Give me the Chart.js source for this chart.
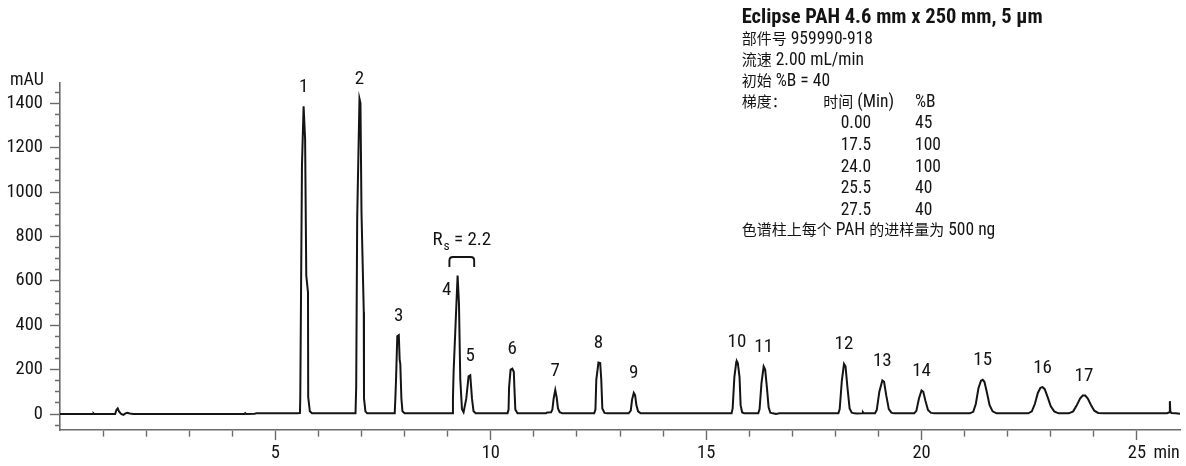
<!DOCTYPE html>
<html>
<head>
<meta charset="utf-8">
<script src="https://cdn.jsdelivr.net/npm/chart.js@4.4.1/dist/chart.umd.min.js"></script>
<style>
  html, body { margin: 0; padding: 0; background: #fff; }
  canvas { display: block; }
</style>
</head>
<body>
<canvas id="chrom" width="1186" height="466"></canvas>
<script>
// ---- Chromatogram data: [time (min), absorbance (mAU)] ----
const trace = [
  // early baseline with injection disturbance
  [0, 0], [0.77, 0], [0.78, 2], [0.79, 0], [1.28, 0], [1.31, 18], [1.34, 25], [1.37, 12],
  [1.42, 0], [1.47, -4], [1.52, 3], [1.56, 5], [1.62, 2], [1.70, 0], [1.95, 0], [1.96, 2],
  [1.97, 0], [4.28, 0], [4.30, 4], [4.32, 0], [4.52, 1], [4.56, 3], [5.50, 3],
  // peak 1
  [5.57, 4], [5.578, 76], [5.617, 1119], [5.655, 1386], [5.69, 1239], [5.717, 624],
  [5.757, 548], [5.762, 76], [5.80, 12], [5.85, 3], [6.86, 3],
  // peak 2
  [6.876, 121], [6.899, 879], [6.952, 1420], [6.975, 1400], [6.999, 908], [7.052, 458],
  [7.057, 70], [7.09, 12], [7.13, 3],
  // peak 3
  [7.77, 3], [7.785, 70], [7.80, 150], [7.83, 350], [7.865, 355], [7.885, 245], [7.90, 225],
  [7.925, 70], [7.95, 12], [8.00, 3],
  // peaks 4 and 5
  [9.10, 3], [9.122, 69], [9.137, 188], [9.23, 624], [9.262, 496], [9.292, 158], [9.331, 23],
  [9.369, 8], [9.431, 69], [9.485, 170], [9.524, 175], [9.564, 69], [9.60, 12], [9.65, 3],
  // peak 6
  [10.39, 3], [10.413, 20], [10.425, 121], [10.46, 200], [10.50, 204], [10.535, 190],
  [10.548, 121], [10.57, 20], [10.62, 3],
  // peak 7
  [11.28, 3], [11.31, 7], [11.40, 8], [11.43, 20], [11.46, 70], [11.497, 108], [11.53, 75],
  [11.56, 25], [11.60, 8], [11.66, 3],
  // peak 8
  [12.40, 3], [12.43, 20], [12.45, 155], [12.50, 232], [12.54, 230], [12.565, 155],
  [12.59, 25], [12.64, 5], [12.70, 3],
  // peak 9
  [13.20, 3], [13.25, 15], [13.28, 65], [13.32, 95], [13.35, 85], [13.38, 40], [13.42, 12], [13.48, 3],
  // peak 10
  [15.59, 3], [15.615, 25], [15.655, 166], [15.70, 235], [15.715, 237], [15.735, 230], [15.775, 166],
  [15.80, 40], [15.835, 8], [15.88, 3],
  // peak 11
  [16.21, 3], [16.24, 22], [16.285, 140], [16.335, 214], [16.37, 200], [16.41, 120],
  [16.45, 30], [16.49, 6], [16.55, 3], [16.62, 0], [16.70, 3],
  // peak 12
  [18.07, 3], [18.10, 22], [18.15, 150], [18.20, 226], [18.235, 215], [18.28, 120],
  [18.33, 25], [18.38, 6], [18.44, 3], [18.50, 2], [18.62, 3], [18.64, 8], [18.66, 3],
  // peak 13
  [18.92, 3], [18.96, 18], [19.02, 100], [19.09, 151], [19.13, 145], [19.18, 85],
  [19.24, 22], [19.30, 6], [19.36, 3],
  // peak 14
  [19.83, 3], [19.88, 14], [19.94, 70], [20.00, 106], [20.04, 100], [20.09, 60],
  [20.15, 18], [20.22, 5], [20.30, 3],
  // peak 15
  [21.12, 3], [21.20, 10], [21.26, 45], [21.32, 115], [21.38, 150], [21.42, 154],
  [21.46, 145], [21.52, 95], [21.58, 40], [21.65, 12], [21.74, 3],
  // peak 16
  [22.48, 3], [22.56, 12], [22.63, 45], [22.70, 95], [22.76, 118], [22.81, 121],
  [22.86, 112], [22.93, 75], [23.00, 35], [23.08, 12], [23.18, 3],
  // peak 17
  [23.42, 3], [23.52, 12], [23.60, 38], [23.68, 70], [23.74, 83], [23.80, 83],
  [23.86, 70], [23.93, 42], [24.01, 15], [24.10, 5], [24.22, 3],
  // end-of-run spike
  [25.70, 4], [25.755, 8], [25.765, 58], [25.775, 12], [25.80, 4], [25.90, 3], [26.0, 1]
];

// Peak identities, apex times and apex heights
const peakNumbers = ['1', '2', '3', '4', '5', '6', '7', '8', '9', '10', '11', '12', '13', '14', '15', '16', '17'];
const peakTimes   = [5.655, 6.952, 7.865, 9.23, 9.524, 10.50, 11.497, 12.50, 13.32, 15.715, 16.335, 18.20, 19.09, 20.00, 21.42, 22.81, 23.77];
const peakHeights = [1386, 1420, 355, 624, 175, 204, 108, 232, 95, 237, 214, 226, 151, 106, 154, 121, 83];

// Resolution between peaks 4 and 5
const resolutionValue = '2.2';
const resolutionSpan = [9.04, 9.615];

// Method conditions
const titleText = 'Eclipse PAH 4.6 mm x 250 mm, 5 µm';
const infoLines = ['部件号 959990-918', '流速 2.00 mL/min', '初始 %B = 40'];
const gradientLabel = '梯度：';
const gradientHeaders = ['时间 (Min)', '%B'];
const gradientTimes = ['0.00', '17.5', '24.0', '25.5', '27.5'];
const gradientB = ['45', '100', '100', '40', '40'];
const loadNote = '色谱柱上每个 PAH 的进样量为 500 ng';

// Axis ticks
const xMajorEvery = 5;
const yMajorEvery = 200;
const yUnit = 'mAU';
const xUnit = 'min';

// ---- Styling ----
const INK = '#141414';
const AXIS = '#6a6a6a';
const NARROW = "'Liberation Sans Narrow', 'Arial Narrow', 'Roboto Condensed', 'DejaVu Sans Condensed', sans-serif";
const CJK_FONT = "'Noto Sans CJK SC', 'Noto Sans CJK JP', sans-serif";
const CJK_RE = /[\u3000-\u303f\u4e00-\u9fff\uff00-\uffef]/;

// Draw a string mixing Latin and CJK runs, each in its own font
function drawMixed(ctx, text, x, y, latinFont, cjkFont) {
  const runs = [];
  let cur = '', curCjk = null;
  for (const ch of text) {
    const c = CJK_RE.test(ch);
    if (curCjk === null || c === curCjk) { cur += ch; }
    else { runs.push([cur, curCjk]); cur = ch; }
    curCjk = c;
  }
  if (cur) runs.push([cur, curCjk]);
  ctx.textAlign = 'left';
  for (const [s, c] of runs) {
    ctx.font = c ? cjkFont : latinFont;
    ctx.fillText(s, x, y);
    x += ctx.measureText(s).width;
  }
  return x;
}

const annotations = {
  id: 'annotations',
  afterDraw(chart) {
    const { ctx, scales: { x, y } } = chart;
    ctx.save();
    ctx.fillStyle = INK;
    ctx.strokeStyle = INK;
    ctx.textBaseline = 'alphabetic';

    // peak numbers above each apex (peak 4 sits to its left)
    ctx.font = `19px ${NARROW}`;
    ctx.textAlign = 'center';
    peakNumbers.forEach((n, i) => {
      let px = x.getPixelForValue(peakTimes[i]);
      let py = y.getPixelForValue(peakHeights[i]) - 14.5;
      if (n === '4') { px -= 11; py += 34.5; }
      ctx.fillText(n, px, py);
    });

    // resolution bracket and label
    const bx1 = x.getPixelForValue(resolutionSpan[0]);
    const bx2 = x.getPixelForValue(resolutionSpan[1]);
    const by = y.getPixelForValue(peakHeights[3]) - 18.5;
    const r = 3.5;
    ctx.lineWidth = 1.9;
    ctx.beginPath();
    ctx.moveTo(bx1, by + 10);
    ctx.lineTo(bx1, by + r);
    ctx.quadraticCurveTo(bx1, by, bx1 + r, by);
    ctx.lineTo(bx2 - r, by);
    ctx.quadraticCurveTo(bx2, by, bx2, by + r);
    ctx.lineTo(bx2, by + 10);
    ctx.stroke();

    const big = `19px ${NARROW}`, small = `13.5px ${NARROW}`;
    const tail = ' = ' + resolutionValue;
    ctx.font = big; const wR = ctx.measureText('R').width, wT = ctx.measureText(tail).width;
    ctx.font = small; const wS = ctx.measureText('s').width;
    let tx = (bx1 + bx2) / 2 - (wR + wS + 1 + wT) / 2;
    const ty = by - 11.5;
    ctx.textAlign = 'left';
    ctx.font = big; ctx.fillText('R', tx, ty); tx += wR + 1;
    ctx.font = small; ctx.fillText('s', tx, ty + 4.5); tx += wS;
    ctx.font = big; ctx.fillText(tail, tx, ty);

    // axis units
    ctx.font = `18px ${NARROW}`;
    ctx.textAlign = 'left';
    ctx.fillText(yUnit, 10, 85);
    ctx.fillText(xUnit, x.getPixelForValue(25) + 16.5, chart.chartArea.bottom + 28.3);

    // method block
    const x0 = 741.7;
    const latin = `17.5px ${NARROW}`;
    const cjk = `15px ${CJK_FONT}`;
    ctx.font = `bold 20.5px ${NARROW}`;
    ctx.fillText(titleText, x0, 22.7);
    const base = [44.3, 64.8, 85.5];
    infoLines.forEach((t, i) => drawMixed(ctx, t, x0, base[i], latin, cjk));
    const hy = 106.6;
    drawMixed(ctx, gradientLabel, x0, hy, latin, cjk);
    drawMixed(ctx, gradientHeaders[0], 823.3, hy, latin, cjk);
    drawMixed(ctx, gradientHeaders[1], 915, hy, latin, cjk);
    gradientTimes.forEach((t, i) => {
      const yy = 128.3 + i * 21.67;
      drawMixed(ctx, t, 840.7, yy, latin, cjk);
      drawMixed(ctx, gradientB[i], 915, yy, latin, cjk);
    });
    drawMixed(ctx, loadNote, x0, 234.5, latin, cjk);
    ctx.restore();
  }
};

new Chart(document.getElementById('chrom'), {
  type: 'line',
  data: {
    datasets: [{
      data: trace.map(([t, v]) => ({ x: t, y: v })),
      borderColor: INK,
      borderWidth: 2,
      pointRadius: 0,
      tension: 0,
      fill: false
    }]
  },
  options: {
    responsive: false,
    animation: false,
    devicePixelRatio: 1,
    layout: { padding: { top: 83, right: 6, left: 0, bottom: 0 } },
    plugins: { legend: { display: false }, tooltip: { enabled: false } },
    scales: {
      x: {
        type: 'linear',
        min: 0,
        max: 26,
        afterFit(s) { s.height = 36; },
        border: { color: AXIS, width: 1.6 },
        grid: {
          drawOnChartArea: false,
          tickLength: 10,
          tickWidth: 1.4,
          tickColor: c => (c.tick && (c.tick.value === 0 || c.tick.value === 26)) ? 'rgba(0,0,0,0)' : AXIS,
          tickBorderDash: c => (c.tick && c.tick.value % xMajorEvery === 0) ? [] : [6, 100]
        },
        ticks: {
          stepSize: 1,
          includeBounds: false,
          autoSkip: false,
          maxRotation: 0,
          padding: 2,
          color: INK,
          font: { family: NARROW, size: 18.5 },
          callback: v => (v > 0 && v % xMajorEvery === 0) ? String(v) : ''
        }
      },
      y: {
        type: 'linear',
        min: -72,
        max: 1491,
        afterFit(s) { s.width = 60; },
        border: { color: AXIS, width: 1.6 },
        grid: {
          drawOnChartArea: false,
          tickLength: 10,
          tickWidth: 1.4,
          tickColor: AXIS,
          tickBorderDash: c => (c.tick && c.tick.value % yMajorEvery === 0) ? [] : [0, 5, 5, 100]
        },
        ticks: {
          stepSize: 50,
          includeBounds: false,
          autoSkip: false,
          padding: 7,
          color: INK,
          font: { family: NARROW, size: 18.5 },
          callback: v => (v >= 0 && v % yMajorEvery === 0) ? String(v) : ''
        }
      }
    }
  },
  plugins: [annotations]
});
</script>
</body>
</html>
